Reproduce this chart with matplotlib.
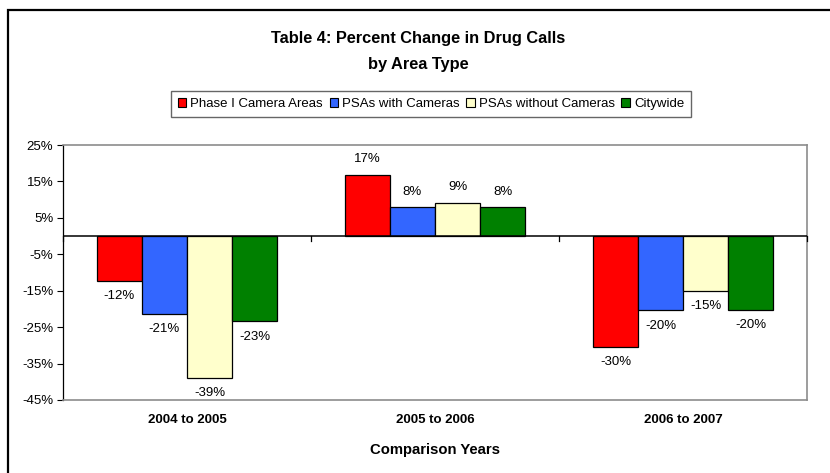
import matplotlib
matplotlib.use("Agg")
import matplotlib.pyplot as plt
from matplotlib.patches import Patch, Rectangle
import numpy as np

plt.rcParams['font.family'] = ['Liberation Sans', 'DejaVu Sans']

categories = ["2004 to 2005", "2005 to 2006", "2006 to 2007"]
series_names = ["Phase I Camera Areas", "PSAs with Cameras", "PSAs without Cameras", "Citywide"]
phase1 = [-12.3, 16.9, -30.4]
psa_cam = [-21.4, 7.9, -20.4]
psa_nocam = [-38.9, 9.2, -15.0]
citywide = [-23.4, 7.9, -20.2]
series_values = [phase1, psa_cam, psa_nocam, citywide]
colors = ["#FF0000", "#3366FF", "#FFFFCC", "#008000"]
yticks = [25, 15, 5, -5, -15, -25, -35, -45]

W, H = 830, 473
fig = plt.figure(figsize=(W / 100, H / 100), dpi=100)

# outer chart frame (runs off the right/bottom edge like the reference)
fig.patches.append(Rectangle((8 / W, -0.1), 1.2, 1 - 10 / H + 0.1, transform=fig.transFigure,
                             fill=False, edgecolor="black", linewidth=1.6))

ax = fig.add_axes([63 / W, (H - 400) / H, (807 - 63) / W, (400 - 145) / H])

x = np.arange(len(categories))
bw = 0.1815
for i, (name, vals, c) in enumerate(zip(series_names, series_values, colors)):
    pos = x + (i - 1.5) * bw
    ax.bar(pos, vals, width=bw, color=c, edgecolor="black", linewidth=0.9, label=name, zorder=2)
    for px, v in zip(pos, vals):
        off = 11.3 if v >= 0 else -11
        ax.annotate(f"{round(v):d}%", (px, v), xytext=(0, off), textcoords="offset points",
                    ha="center", va="center", fontsize=9.5)

ax.set_xlim(-0.5, 2.5)
ax.set_ylim(-45, 25)
ax.set_yticks(yticks)
ax.set_yticklabels([f"{t}%" for t in yticks], fontsize=9.5)
ax.tick_params(axis="y", length=4, width=0.8, pad=3, color="black")
ax.set_xticks(x)
ax.set_xticklabels(categories, fontsize=9.5, fontweight="bold")
ax.tick_params(axis="x", length=0, pad=10)

for s in ["top", "right", "bottom"]:
    ax.spines[s].set_color("#8c8c8c")
    ax.spines[s].set_linewidth(1.2)
ax.spines["left"].set_color("black")
ax.spines["left"].set_linewidth(0.9)

# category axis at zero with tick marks between categories
ax.axhline(0, color="black", linewidth=1.1, zorder=3)
for b in [-0.5, 0.5, 1.5, 2.5]:
    ax.plot([b, b], [0, -1.3], color="black", linewidth=0.9, zorder=3, clip_on=False)

ax.set_xlabel("Comparison Years", fontsize=10.7, fontweight="bold", labelpad=12)

fig.text(418 / W, 1 - 39 / H, "Table 4: Percent Change in Drug Calls", ha="center", va="center",
         fontsize=11.8, fontweight="bold")
fig.text(418 / W, 1 - 65 / H, "by Area Type", ha="center", va="center",
         fontsize=11.8, fontweight="bold")

handles = [Patch(facecolor=c, edgecolor="black", linewidth=0.8) for c in colors]
leg = fig.legend(handles, series_names, loc="center", bbox_to_anchor=(431 / W, 1 - 104 / H),
                 ncol=4, fontsize=9.5, frameon=True, fancybox=False, handlelength=0.65,
                 handleheight=0.65, handletextpad=0.3, columnspacing=0.5, borderpad=0.5,
                 borderaxespad=0)
leg.get_frame().set_edgecolor("#404040")
leg.get_frame().set_linewidth(1.0)

fig.savefig("out.png", dpi=100)
